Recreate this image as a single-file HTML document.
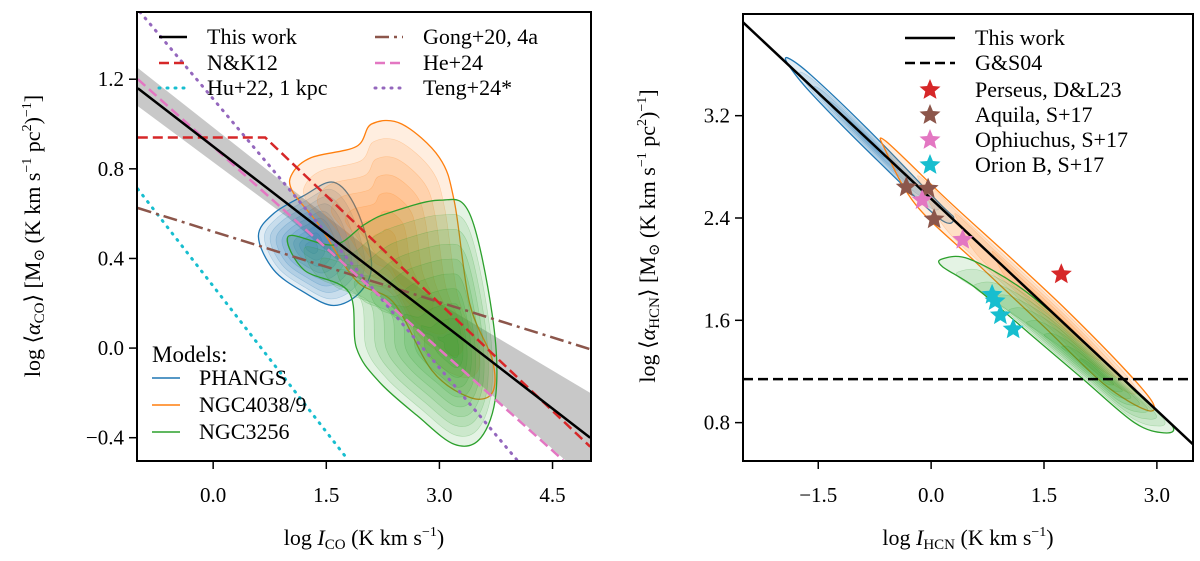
<!DOCTYPE html>
<html><head><meta charset="utf-8"><style>
html,body{margin:0;padding:0;background:#fff;width:1200px;height:561px;overflow:hidden}
svg text{font-family:"Liberation Serif","DejaVu Serif",serif;fill:#000}
</style></head><body>
<svg id="fig" width="1200" height="561" viewBox="0 0 1200 561" xmlns="http://www.w3.org/2000/svg"></svg>
<script>
// ---------- Left panel data ----------
const L_xTicks = [0.0, 1.5, 3.0, 4.5];
const L_xTickLabels = ["0.0", "1.5", "3.0", "4.5"];
const L_yTicks = [-0.4, 0.0, 0.4, 0.8, 1.2];
const L_yTickLabels = ["\u22120.4", "0.0", "0.4", "0.8", "1.2"];
const thisWorkCO = [[-1.0, 1.16], [5.0, -0.40]];
const bandUpper = [[-1.0, 1.25], [1.0, 0.72], [3.0, 0.2], [5.0, -0.2]];
const bandLower = [[-1.0, 1.08], [1.0, 0.58], [3.0, 0.0], [5.0, -0.6]];
const nk12 = [[-1.0, 0.94], [0.69, 0.94], [5.0, -0.44]];
const gong20 = [[-1.0, 0.625], [5.0, -0.005]];
const he24 = [[-1.0, 1.2], [4.64, -0.5]];
const teng24 = [[-0.97, 1.5], [4.03, -0.5]];
const hu22 = [[-1.0, 0.71], [1.79, -0.5]];
const blueCO = [[0.6,0.5],[0.8,0.6],[1.2,0.68],[1.6,0.74],[1.9,0.62],[2.1,0.38],[1.95,0.25],[1.6,0.19],[1.2,0.25],[0.8,0.35]];
const orangeCO = [[1.05,0.78],[1.3,0.85],[1.9,0.9],[2.1,1.0],[2.5,1.0],[3.0,0.85],[3.2,0.65],[3.4,0.2],[3.7,-0.05],[3.7,-0.2],[3.4,-0.22],[2.9,-0.1],[2.4,0.2],[1.9,0.3],[1.4,0.55],[1.05,0.7]];
const greenCO = [[1.0,0.5],[1.6,0.46],[2.0,0.55],[2.3,0.6],[3.0,0.66],[3.4,0.6],[3.7,0.15],[3.75,-0.2],[3.55,-0.4],[3.2,-0.43],[2.7,-0.3],[2.2,-0.15],[1.9,0.0],[1.8,0.25],[1.2,0.35]];
const blueCOcore = [1.3, 0.45];
const orangeCOcore = [2.3, 0.45];
const greenCOcore = [3.2, 0.0];

// ---------- Right panel data ----------
const R_xTicks = [-1.5, 0.0, 1.5, 3.0];
const R_xTickLabels = ["\u22121.5", "0.0", "1.5", "3.0"];
const R_yTicks = [0.8, 1.6, 2.4, 3.2];
const R_yTickLabels = ["0.8", "1.6", "2.4", "3.2"];
const thisWorkHCN = [[-2.5, 3.93], [3.48, 0.63]];
const gs04 = 1.14;
const perseus = [[1.73, 1.96]];
const aquila = [[-0.33, 2.64], [-0.04, 2.63], [0.04, 2.39]];
const ophiuchus = [[-0.12, 2.54], [0.42, 2.23]];
const orionB = [[0.81, 1.80], [0.85, 1.75], [0.92, 1.64], [1.09, 1.53]];
const blueHCN = [[-1.9,3.65],[-1.6,3.52],[-0.8,3.07],[0.1,2.52],[0.3,2.4],[0.1,2.4],[-0.8,2.9],[-1.6,3.38],[-1.9,3.6]];
const orangeHCN = [[-0.6,3.0],[0.2,2.55],[1.0,2.12],[1.8,1.68],[2.6,1.2],[2.95,0.95],[2.85,0.9],[2.3,1.1],[1.5,1.55],[0.6,2.05],[-0.2,2.5],[-0.6,2.92]];
const greenHCN = [[0.15,2.08],[0.5,2.08],[1.2,1.85],[2.0,1.45],[2.7,1.05],[3.2,0.78],[3.1,0.72],[2.7,0.8],[2.0,1.15],[1.3,1.5],[0.6,1.85],[0.15,2.02]];
const blueHCNcore = [-0.8, 2.98];
const orangeHCNcore = [1.8, 1.55];
const greenHCNcore = [2.2, 1.2];

const NS = "http://www.w3.org/2000/svg";
const fig = document.getElementById('fig');
function mk(tag, attrs, parent){const e=document.createElementNS(NS,tag);for(const k in attrs)e.setAttribute(k,attrs[k]);(parent||fig).appendChild(e);return e;}

function makeAxes(px0,px1,py0,py1,xmin,xmax,ymin,ymax){
  return {sx:v=>px0+(v-xmin)/(xmax-xmin)*(px1-px0), sy:v=>py1-(v-ymin)/(ymax-ymin)*(py1-py0), px0,px1,py0,py1};
}
const A = makeAxes(137,591,12,461,-1.01,5.01,-0.504,1.5);
const B = makeAxes(743,1193,14,461,-2.5,3.48,0.5,3.995);

function pathOf(ax, pts, close){return pts.map((p,i)=>(i?'L':'M')+ax.sx(p[0]).toFixed(1)+' '+ax.sy(p[1]).toFixed(1)).join(' ')+(close?' Z':'');}
function smoothOf(ax, pts){
  const P=pts.map(p=>[ax.sx(p[0]),ax.sy(p[1])]);const n=P.length;let d='M'+P[0][0].toFixed(1)+' '+P[0][1].toFixed(1);
  for(let i=0;i<n;i++){const p0=P[(i-1+n)%n],p1=P[i],p2=P[(i+1)%n],p3=P[(i+2)%n];
    const c1=[p1[0]+(p2[0]-p0[0])/6,p1[1]+(p2[1]-p0[1])/6],c2=[p2[0]-(p3[0]-p1[0])/6,p2[1]-(p3[1]-p1[1])/6];
    d+=' C'+c1[0].toFixed(1)+' '+c1[1].toFixed(1)+' '+c2[0].toFixed(1)+' '+c2[1].toFixed(1)+' '+p2[0].toFixed(1)+' '+p2[1].toFixed(1);}
  return d+' Z';
}
function contour(ax, g, pts, core, color, name, levels){
  const grp=mk('g',{},g);
  
  
  for(let k=0;k<levels;k++){
    const f=1-k/levels;
    const sp=pts.map(p=>[core[0]+(p[0]-core[0])*f, core[1]+(p[1]-core[1])*f]);
    mk('path',{d:smoothOf(ax,sp),fill:color,'fill-opacity':0.13,stroke:color,'stroke-opacity':k?0.25:1,'stroke-width':k?0.6:1.3},grp);
  }
}
function line(ax,g,pts,color,w,dash,name){
  const e=mk('path',{d:pathOf(ax,pts),fill:'none',stroke:color,'stroke-width':w,'stroke-dasharray':dash||'none'},g);
  
  
  return e;
}
function star(cx,cy,r,color,g,name){
  let d='';for(let i=0;i<10;i++){const a=-Math.PI/2+i*Math.PI/5;const rr=i%2?r*0.45:r;d+=(i?'L':'M')+(cx+rr*Math.cos(a)).toFixed(1)+' '+(cy+rr*Math.sin(a)).toFixed(1);}
  const e=mk('path',{d:d+'Z',fill:color},g);
  
  
}
function frameTicks(ax,g,xt,xl,yt,yl){
  mk('rect',{x:ax.px0,y:ax.py0,width:ax.px1-ax.px0,height:ax.py1-ax.py0,fill:'none',stroke:'#000','stroke-width':2},g);
  xt.forEach((v,i)=>{const x=ax.sx(v);mk('line',{x1:x,x2:x,y1:ax.py1,y2:ax.py1+8,stroke:'#000','stroke-width':1.5},g);
    const t=mk('text',{x:x,y:502,'font-size':21,'text-anchor':'middle'},g);t.textContent=xl[i];
    
    });
  yt.forEach((v,i)=>{const y=ax.sy(v);mk('line',{x1:ax.px0-8,x2:ax.px0,y1:y,y2:y,stroke:'#000','stroke-width':1.5},g);
    const t=mk('text',{x:ax.px0-13,y:y+7,'font-size':21,'text-anchor':'end'},g);t.textContent=yl[i];
    
    });
}

// ---------- Left panel ----------
const gL=mk('g',{});


const cp1=mk('clipPath',{id:'cL'});mk('rect',{x:A.px0,y:A.py0,width:A.px1-A.px0,height:A.py1-A.py0},cp1);
const gLc=mk('g',{'clip-path':'url(#cL)'},gL);
const band=mk('path',{d:pathOf(A,bandUpper.concat(bandLower.slice().reverse()),true),fill:'#c8c8c8'},gLc);


contour(A,gLc,blueCO,blueCOcore,'#1f77b4','phangs-contours',9);
contour(A,gLc,orangeCO,orangeCOcore,'#ff7f0e','ngc4038-contours',7);
contour(A,gLc,greenCO,greenCOcore,'#2ca02c','ngc3256-contours',10);
line(A,gLc,hu22,'#17becf',3,'1 7','hu22-line').setAttribute('stroke-linecap','round');
line(A,gLc,teng24,'#9467bd',3,'1 7','teng24-line').setAttribute('stroke-linecap','round');
line(A,gLc,gong20,'#8c564b',2.5,'14 5 3 5','gong20-line');
line(A,gLc,he24,'#e377c2',2.5,'10 5','he24-line');
line(A,gLc,nk12,'#d62728',2.5,'10 5','nk12-line');
line(A,gLc,thisWorkCO,'#000',2.5,null,'this-work-line');
frameTicks(A,gL,L_xTicks,L_xTickLabels,L_yTicks,L_yTickLabels);

// Left legend
const legL=mk('g',{},gL);


[['This work','#000','none',159,37],['N&K12','#d62728','10 5',159,63],['Hu+22, 1 kpc','#17becf','1 7',159,88],
 ['Gong+20, 4a','#8c564b','14 5 3 5',375,37],['He+24','#e377c2','10 5',375,63],['Teng+24*','#9467bd','1 7',375,88]].forEach(r=>{
  mk('line',{x1:r[3],x2:r[3]+28,y1:r[4],y2:r[4],stroke:r[1],'stroke-width':r[2]==='1 7'?3:2.5,'stroke-dasharray':r[2],'stroke-linecap':r[2]==='1 7'?'round':'butt'},legL);
  const t=mk('text',{x:r[3]+48,y:r[4]+7,'font-size':22},legL);t.textContent=r[0];
  
  
});
const legM=mk('g',{},gL);


const mt=mk('text',{x:152,y:362,'font-size':23},legM);mt.textContent='Models:';
[['PHANGS','#1f77b4',378],['NGC4038/9','#ff7f0e',405],['NGC3256','#2ca02c',432]].forEach(r=>{
  mk('line',{x1:152,x2:180,y1:r[2],y2:r[2],stroke:r[1],'stroke-width':1.5},legM);
  const t=mk('text',{x:199,y:r[2]+7,'font-size':22},legM);t.textContent=r[0];
  
  
});
const xlL=mk('text',{x:364,y:545,'font-size':22,'text-anchor':'middle'},gL);
xlL.innerHTML='log <tspan font-style="italic">I</tspan><tspan font-size="15" dy="4">CO</tspan><tspan dy="-4"> (K km s</tspan><tspan font-size="14" dy="-9">\u22121</tspan><tspan dy="9">)</tspan>';


const ylL=mk('text',{x:0,y:0,'font-size':22,'text-anchor':'middle',transform:'translate(40,236) rotate(-90)'},gL);
ylL.innerHTML='log \u27E8<tspan font-style="italic">\u03B1</tspan><tspan font-size="15" dy="4">CO</tspan><tspan dy="-4">\u27E9 [M</tspan><tspan font-size="15" dy="4">\u2299</tspan><tspan dy="-4"> (K km s</tspan><tspan font-size="14" dy="-9">\u22121</tspan><tspan dy="9"> pc</tspan><tspan font-size="14" dy="-9">2</tspan><tspan dy="9">)</tspan><tspan font-size="14" dy="-9">\u22121</tspan><tspan dy="9">]</tspan>';



// ---------- Right panel ----------
const gR=mk('g',{});


const cp2=mk('clipPath',{id:'cR'});mk('rect',{x:B.px0,y:B.py0,width:B.px1-B.px0,height:B.py1-B.py0},cp2);
const gRc=mk('g',{'clip-path':'url(#cR)'},gR);
contour(B,gRc,blueHCN,blueHCNcore,'#1f77b4','phangs-hcn-contours',6);
contour(B,gRc,orangeHCN,orangeHCNcore,'#ff7f0e','ngc4038-hcn-contours',5);
contour(B,gRc,greenHCN,greenHCNcore,'#2ca02c','ngc3256-hcn-contours',9);
line(B,gRc,[[-2.5,gs04],[3.48,gs04]],'#000',2.5,'10 5','gs04-line');
line(B,gRc,thisWorkHCN,'#000',2.5,null,'this-work-hcn-line');
perseus.forEach(p=>star(B.sx(p[0]),B.sy(p[1]),11,'#d62728',gRc,'perseus-star'));
aquila.forEach(p=>star(B.sx(p[0]),B.sy(p[1]),11,'#8c564b',gRc,'aquila-star'));
ophiuchus.forEach(p=>star(B.sx(p[0]),B.sy(p[1]),11,'#e377c2',gRc,'ophiuchus-star'));
orionB.forEach(p=>star(B.sx(p[0]),B.sy(p[1]),11,'#17becf',gRc,'orion-b-star'));
frameTicks(B,gR,R_xTicks,R_xTickLabels,R_yTicks,R_yTickLabels);
const legR=mk('g',{},gR);


[['This work','line','none',38],['G&S04','line','10 5',63],['Perseus, D&L23','#d62728',null,90],['Aquila, S+17','#8c564b',null,115],['Ophiuchus, S+17','#e377c2',null,140],['Orion B, S+17','#17becf',null,165]].forEach(r=>{
  if(r[1]==='line') mk('line',{x1:905,x2:955,y1:r[3],y2:r[3],stroke:'#000','stroke-width':2.5,'stroke-dasharray':r[2]},legR);
  else star(930,r[3],11,r[1],legR,'legend-star');
  const t=mk('text',{x:975,y:r[3]+7,'font-size':22},legR);t.textContent=r[0];
  
  
});
const xlR=mk('text',{x:968,y:545,'font-size':22,'text-anchor':'middle'},gR);
xlR.innerHTML='log <tspan font-style="italic">I</tspan><tspan font-size="15" dy="4">HCN</tspan><tspan dy="-4"> (K km s</tspan><tspan font-size="14" dy="-9">\u22121</tspan><tspan dy="9">)</tspan>';


const ylR=mk('text',{x:0,y:0,'font-size':22,'text-anchor':'middle',transform:'translate(655,236) rotate(-90)'},gR);
ylR.innerHTML='log \u27E8<tspan font-style="italic">\u03B1</tspan><tspan font-size="15" dy="4">HCN</tspan><tspan dy="-4">\u27E9 [M</tspan><tspan font-size="15" dy="4">\u2299</tspan><tspan dy="-4"> (K km s</tspan><tspan font-size="14" dy="-9">\u22121</tspan><tspan dy="9"> pc</tspan><tspan font-size="14" dy="-9">2</tspan><tspan dy="9">)</tspan><tspan font-size="14" dy="-9">\u22121</tspan><tspan dy="9">]</tspan>';


</script>
</body></html>
